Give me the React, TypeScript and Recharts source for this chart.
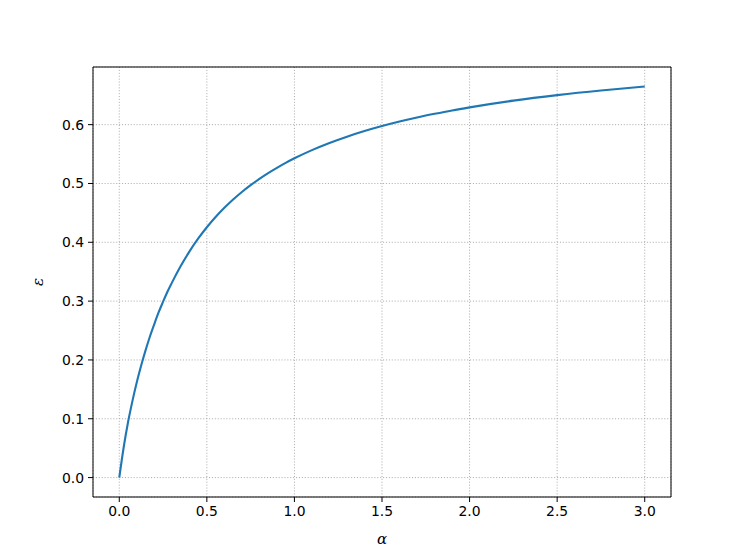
import React from "react";
import {
  LineChart,
  Line,
  XAxis,
  YAxis,
  CartesianGrid,
  ReferenceLine,
  Label,
} from "recharts";

// values
const alpha = [
  0, 0.025, 0.05, 0.075, 0.1, 0.125, 0.15, 0.175, 0.2, 0.225, 0.25, 0.275,
  0.3, 0.35, 0.4, 0.45, 0.5, 0.55, 0.6, 0.65, 0.7, 0.75, 0.8, 0.85, 0.9, 0.95,
  1.0, 1.1, 1.2, 1.3, 1.4, 1.5, 1.6, 1.7, 1.8, 1.9, 2.0, 2.25, 2.5, 2.75, 3.0,
];
const epsilon = [
  0, 0.0512, 0.0941, 0.13, 0.162, 0.1904, 0.2163, 0.2399, 0.261, 0.2811,
  0.299, 0.316, 0.331, 0.3591, 0.3841, 0.4061, 0.4256, 0.443, 0.4586, 0.4727,
  0.4855, 0.4971, 0.5078, 0.5176, 0.5266, 0.535, 0.5428, 0.5567, 0.5689,
  0.5796, 0.5891, 0.5976, 0.6053, 0.6122, 0.6184, 0.6242, 0.6294, 0.6408,
  0.6502, 0.6581, 0.6648,
];

const xTicks = [0, 0.5, 1.0, 1.5, 2.0, 2.5, 3.0];
const yTicks = [0, 0.1, 0.2, 0.3, 0.4, 0.5, 0.6];

const xDomain = [-0.15, 3.15];
const yDomain = [-0.033, 0.698];

const data = alpha.map((a, i) => ({ alpha: a, eps: epsilon[i] }));

const tickStyle = {
  fill: "#000",
  fontSize: 13.9,
  fontFamily: "DejaVu Sans",
};

const labelStyle = {
  fill: "#000",
  fontSize: 15,
  fontStyle: "italic",
  fontFamily: "DejaVu Serif",
};

export default function App() {
  return (
    <div style={{ position: "absolute", left: 0, top: 0, background: "#fff" }}>
      <LineChart
        width={747}
        height={560}
        data={data}
        margin={{ top: 67, right: 76, bottom: 13, left: 33 }}
      >
        <CartesianGrid stroke="#b0b0b0" strokeDasharray="1.1 1.8" />
        <XAxis
          dataKey="alpha"
          type="number"
          domain={xDomain}
          ticks={xTicks}
          tickFormatter={(v: number) => v.toFixed(1)}
          tick={tickStyle}
          tickSize={5}
          tickMargin={4}
          stroke="#000"
          height={50}
          allowDataOverflow
        >
          <Label value="α" position="insideBottom" offset={3} style={labelStyle} />
        </XAxis>
        <YAxis
          type="number"
          domain={yDomain}
          ticks={yTicks}
          tickFormatter={(v: number) => v.toFixed(1)}
          tick={tickStyle}
          tickSize={5}
          tickMargin={4}
          stroke="#000"
          width={60}
          allowDataOverflow
        >
          <Label
            value="ε"
            angle={-90}
            position="insideLeft"
            offset={5}
            style={{ ...labelStyle, textAnchor: "middle" }}
          />
        </YAxis>
        {/* top and right spines */}
        <ReferenceLine y={yDomain[1]} stroke="#000" />
        <ReferenceLine x={xDomain[1]} stroke="#000" />
        <Line
          type="monotone"
          dataKey="eps"
          stroke="#1f77b4"
          strokeWidth={2.1}
          dot={false}
          isAnimationActive={false}
        />
      </LineChart>
    </div>
  );
}
